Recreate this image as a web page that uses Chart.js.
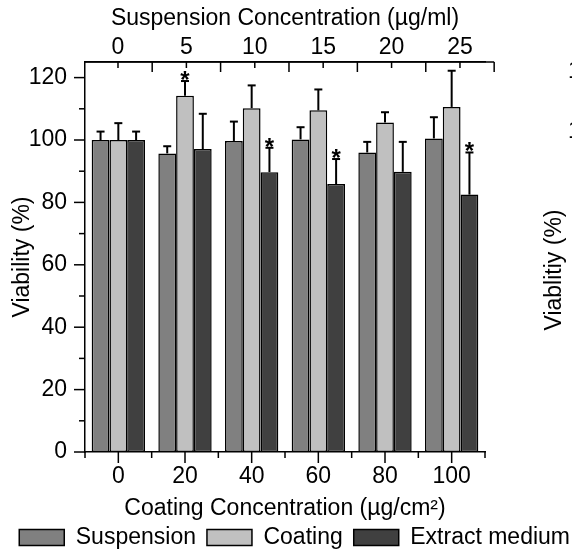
<!DOCTYPE html>
<html><head><meta charset="utf-8">
<script src="https://cdn.jsdelivr.net/npm/chart.js@4.4.0/dist/chart.umd.min.js"></script>
<style>html,body{margin:0;padding:0;background:#fff;}</style>
</head><body>
<canvas id="c" width="572" height="553"></canvas>
<script>
// ---- data ----
const categories = ['0', '20', '40', '60', '80', '100'];
const topTickValues = [0, 5, 10, 15, 20, 25];
const yTickValues = [0, 20, 40, 60, 80, 100, 120];
const seriesNames = ['Suspension', 'Coating', 'Extract medium'];
const suspension = [100, 95.7, 99.7, 100.2, 96.0, 100.5];
const suspensionErr = [2.7, 2.3, 6.2, 3.9, 3.4, 6.8];
const coating = [100, 114.2, 110.2, 109.5, 105.6, 110.6];
const coatingErr = [5.4, 4.7, 7.3, 6.7, 3.3, 11.6];
const extract = [100, 97.1, 89.7, 85.9, 89.8, 82.5];
const extractErr = [2.7, 11.3, 7.8, 8.0, 9.6, 13.5];
const suspensionSig = [false, false, false, false, false, false];
const coatingSig = [false, true, false, false, false, false];
const extractSig = [false, false, true, true, false, true];

const FONT = "'Liberation Sans', Arial, Helvetica, sans-serif";
const FS = 23;
Chart.defaults.font.family = FONT;
Chart.defaults.font.size = FS;
Chart.defaults.color = '#000';

function seg(ctx, x1, y1, x2, y2) { ctx.beginPath(); ctx.moveTo(x1, y1); ctx.lineTo(x2, y2); ctx.stroke(); }

const axisPlugin = {
  id: 'axisTicks',
  afterDraw(chart) {
    const ctx = chart.ctx, a = chart.chartArea;
    const x = chart.scales.x, y = chart.scales.y, x2 = chart.scales.x2;
    ctx.save();
    ctx.strokeStyle = '#000'; ctx.lineWidth = 1.5; ctx.lineCap = 'butt';
    // left axis ticks (major + minor)
    for (let v = 0; v <= 120; v += 10) {
      const py = y.getPixelForValue(v);
      seg(ctx, a.left - (v % 20 === 0 ? 11 : 6), py, a.left, py);
    }
    // bottom axis ticks
    categories.forEach((c, i) => {
      const px = x.getPixelForValue(i);
      seg(ctx, px, a.bottom, px, a.bottom + 11);
    });
    for (let i = 0; i <= categories.length; i++) {
      const px = x.getPixelForValue(i - 0.5);
      seg(ctx, px, a.bottom, px, a.bottom + 6);
    }
    // top axis line and inward ticks
    const topEnd = x2.getPixelForValue(27.5);
    seg(ctx, a.left, a.top, topEnd, a.top);
    topTickValues.forEach(v => {
      const px = x2.getPixelForValue(v);
      seg(ctx, px, a.top, px, a.top + 6);
    });
    for (let v = 2.5; v <= 27.5; v += 5) {
      const px = x2.getPixelForValue(v);
      seg(ctx, px, a.top, px, a.top + 10);
    }
    // partial neighbouring panel text (cropped in the reference)
    ctx.fillStyle = '#000';
    ctx.font = FS + 'px ' + FONT;
    ctx.textAlign = 'left'; ctx.textBaseline = 'middle';
    ctx.fillText('120', 568, 72);
    ctx.fillText('100', 568, 132);
    ctx.translate(555, 270);
    ctx.rotate(-Math.PI / 2);
    ctx.textAlign = 'center';
    ctx.fillText('Viablitiy (%)', 0, 0);
    ctx.restore();
  }
};

const errorPlugin = {
  id: 'errorBars',
  afterDatasetsDraw(chart) {
    const ctx = chart.ctx, y = chart.scales.y;
    ctx.save();
    ctx.strokeStyle = '#000'; ctx.lineWidth = 2;
    ctx.fillStyle = '#000';
    ctx.font = 'bold 24px ' + FONT;
    ctx.textAlign = 'center'; ctx.textBaseline = 'alphabetic';
    chart.data.datasets.forEach((ds, di) => {
      const meta = chart.getDatasetMeta(di);
      meta.data.forEach((bar, i) => {
        const top = y.getPixelForValue(ds.data[i] + ds.errors[i]);
        seg(ctx, bar.x, bar.y, bar.x, top);
        seg(ctx, bar.x - 4, top, bar.x + 4, top);
        if (ds.sig[i]) ctx.fillText('*', bar.x, top + 7);
      });
    });
    ctx.restore();
  }
};

const mk = (label, data, errors, sig, color) => ({
  label, data, errors, sig,
  backgroundColor: color, borderColor: '#000', borderWidth: 1.5, borderSkipped: false,
  categoryPercentage: 0.8, barPercentage: 1.0
});

new Chart(document.getElementById('c'), {
  type: 'bar',
  data: {
    labels: categories,
    datasets: [
      mk(seriesNames[0], suspension, suspensionErr, suspensionSig, '#808080'),
      mk(seriesNames[1], coating, coatingErr, coatingSig, '#c0c0c0'),
      mk(seriesNames[2], extract, extractErr, extractSig, '#404040')
    ]
  },
  options: {
    responsive: false,
    animation: false,
    devicePixelRatio: 1,
    layout: { padding: { left: 0, right: -9, top: 0, bottom: -6 } },
    plugins: {
      tooltip: { enabled: false },
      legend: {
        position: 'bottom', align: 'end',
        labels: { boxWidth: 45, boxHeight: 16, padding: 11, color: '#000', font: { size: 23 } }
      }
    },
    scales: {
      x: {
        type: 'category', position: 'bottom', offset: true,
        grid: { display: false, drawTicks: false, tickLength: 0 },
        border: { display: true, color: '#000', width: 1.5 },
        ticks: { color: '#000', font: { size: FS }, padding: 11, maxRotation: 0 },
        title: { display: true, text: 'Coating Concentration (µg/cm²)', color: '#000', font: { size: FS }, padding: { top: 0, bottom: -7 } },
        afterFit: s => { s.height = 63; }
      },
      x2: {
        type: 'linear', position: 'top', min: -2.412, max: 26.83, offset: false,
        grid: { display: false, drawTicks: false, tickLength: 0, offset: false },
        border: { display: true, color: '#000', width: 1.5 },
        afterBuildTicks: s => { s.ticks = topTickValues.map(v => ({ value: v })); },
        ticks: { color: '#000', font: { size: FS }, padding: 1, callback: v => String(v) },
        title: { display: true, text: 'Suspension Concentration (µg/ml)', color: '#000', font: { size: FS }, padding: { top: 5, bottom: 0 } },
        afterFit: s => { s.height = 62; }
      },
      y: {
        min: 0, max: 125, position: 'left',
        grid: { display: false, drawTicks: false, tickLength: 0 },
        border: { display: true, color: '#000', width: 1.5 },
        afterBuildTicks: s => { s.ticks = yTickValues.map(v => ({ value: v })); },
        ticks: { color: '#000', font: { size: FS }, padding: 18 },
        title: { display: true, text: 'Viability (%)', color: '#000', font: { size: FS }, padding: { top: 9, bottom: 0 } },
        afterFit: s => { s.width = 85; }
      },
      yRight: {
        type: 'linear', position: 'right', display: true,
        grid: { display: false, drawTicks: false },
        border: { display: false },
        ticks: { display: false },
        afterFit: s => { s.width = 96; }
      }
    }
  },
  plugins: [axisPlugin, errorPlugin]
});
</script>
</body></html>
